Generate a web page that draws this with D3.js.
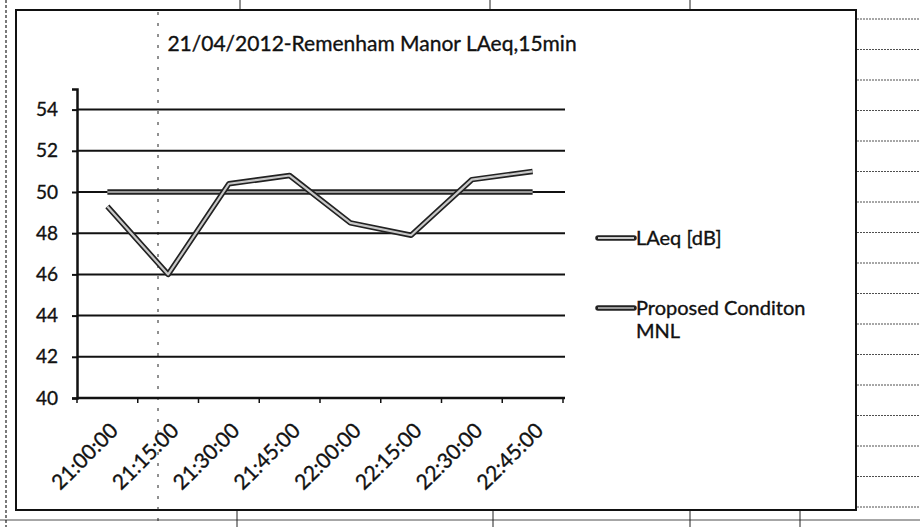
<!DOCTYPE html>
<html>
<head>
<meta charset="utf-8">
<script src="https://cdn.jsdelivr.net/npm/d3@7"></script>
<style>
  body { margin: 0; background: #fff; }
  text { font-family: Lato, "Open Sans", sans-serif; fill: #111; stroke: #111; stroke-width: 0.35px; }
</style>
</head>
<body>
<div id="chart"></div>
<script>
// chart data
var times = ["21:00:00", "21:15:00", "21:30:00", "21:45:00", "22:00:00", "22:15:00", "22:30:00", "22:45:00"];
var laeq = [49.3, 46.0, 50.4, 50.8, 48.5, 47.9, 50.6, 51.0];
var proposed = [50, 50, 50, 50, 50, 50, 50, 50];
var yTicks = [40, 42, 44, 46, 48, 50, 52, 54];
var seriesNames = ["LAeq [dB]", "Proposed Conditon MNL"];

var W = 920, H = 527;
var svg = d3.select("#chart").append("svg")
  .attr("width", W).attr("height", H);

// ---- scan leftovers: spreadsheet cells around the chart
var deco = svg.append("g").attr("stroke", "#222").attr("fill", "none");
deco.append("line").attr("x1", 6).attr("x2", 6).attr("y1", 0).attr("y2", H)
  .attr("stroke-width", 1.2).attr("stroke-dasharray", "3,2");
d3.range(19, 510, 30.5).forEach(function(y) {
  deco.append("line").attr("x1", 857).attr("x2", W).attr("y1", y).attr("y2", y)
    .attr("stroke-width", 0.8).attr("stroke-dasharray", "2,1");
});
deco.append("line").attr("x1", 0).attr("x2", W).attr("y1", 520).attr("y2", 520)
  .attr("stroke-width", 0.8);
[240, 490, 690].forEach(function(xx) {
  deco.append("line").attr("x1", xx).attr("x2", xx).attr("y1", 0).attr("y2", 9).attr("stroke-width", 1);
});
[237, 493, 690, 800].forEach(function(xx) {
  deco.append("line").attr("x1", xx).attr("x2", xx).attr("y1", 511).attr("y2", 527).attr("stroke-width", 1);
});

// chart frame
svg.append("rect").attr("x", 16).attr("y", 10).attr("width", 840).attr("height", 500)
  .attr("fill", "#fff").attr("stroke", "#111").attr("stroke-width", 2);
svg.append("line").attr("x1", 158).attr("x2", 158).attr("y1", 12).attr("y2", 527)
  .attr("stroke", "#222").attr("stroke-width", 1).attr("stroke-dasharray", "3,8");

// title
svg.append("text")
  .attr("x", 372).attr("y", 51)
  .attr("text-anchor", "middle")
  .style("font-size", "21px")
  .text("21/04/2012-Remenham Manor LAeq,15min");

// scales
var x = d3.scalePoint().domain(times).range([77, 563]).padding(0.5);
var xBand = d3.scaleBand().domain(times).range([77, 563]);
var y = d3.scaleLinear().domain([40, 55]).range([398, 89]);

// gridlines
svg.append("g").selectAll("line")
  .data(yTicks)
  .enter().append("line")
  .attr("x1", 77).attr("x2", 565)
  .attr("y1", function(d) { return y(d); })
  .attr("y2", function(d) { return y(d); })
  .attr("stroke", "#111").attr("stroke-width", 2);

// y axis
var yAxis = svg.append("g").attr("transform", "translate(77,0)")
  .call(d3.axisLeft(y).tickValues(yTicks).tickSize(5).tickPadding(14));
yAxis.select(".domain").attr("stroke", "#111").attr("stroke-width", 2.5);
yAxis.selectAll(".tick line").attr("stroke", "#111").attr("stroke-width", 2);
yAxis.selectAll(".tick text").style("font-size", "19px").attr("fill", "#111");

// x axis: ticks sit between categories
var xAxis = svg.append("g").attr("transform", "translate(0,398)");
xAxis.append("line").attr("x1", 77).attr("x2", 565)
  .attr("stroke", "#111").attr("stroke-width", 2.5);
xAxis.selectAll(".xt")
  .data(times.concat(["end"]))
  .enter().append("line")
  .attr("x1", function(d, i) { return i < times.length ? xBand(d) : 563; })
  .attr("x2", function(d, i) { return i < times.length ? xBand(d) : 563; })
  .attr("y1", 0).attr("y2", 5)
  .attr("stroke", "#111").attr("stroke-width", 1.5);
xAxis.selectAll(".xl")
  .data(times)
  .enter().append("text")
  .attr("text-anchor", "end")
  .attr("transform", function(d) { return "translate(" + (x(d) + 12) + ",34) rotate(-45)"; })
  .style("font-size", "21px")
  .text(function(d) { return d; });

// double-stroked lines like the scan
var line = d3.line()
  .x(function(d, i) { return x(times[i]); })
  .y(function(d) { return y(d); });

function drawSeries(vals, inner) {
  var g = svg.append("g");
  g.append("path").attr("d", line(vals)).attr("fill", "none")
    .attr("stroke", "#222").attr("stroke-width", 5.5).attr("stroke-linejoin", "round");
  g.append("path").attr("d", line(vals)).attr("fill", "none")
    .attr("stroke", inner).attr("stroke-width", 2.2).attr("stroke-linejoin", "round");
}
drawSeries(proposed, "#999");
drawSeries(laeq, "#c8c8c8");

// legend
var legend = svg.append("g");
var legendY = [238, 308];
seriesNames.forEach(function(name, i) {
  var ly = legendY[i];
  legend.append("line").attr("x1", 598).attr("x2", 634).attr("y1", ly).attr("y2", ly)
    .attr("stroke", "#222").attr("stroke-width", 5.5).attr("stroke-linecap", "round");
  legend.append("line").attr("x1", 598).attr("x2", 634).attr("y1", ly).attr("y2", ly)
    .attr("stroke", i === 0 ? "#c8c8c8" : "#999").attr("stroke-width", 2.2);
  var words = i === 0 ? [name] : ["Proposed Conditon", "MNL"];
  var t = legend.append("text").attr("x", 636).attr("y", ly + 7).style("font-size", "20px");
  words.forEach(function(w, k) {
    t.append("tspan").attr("x", 636).attr("dy", k === 0 ? 0 : 23).text(w);
  });
});
</script>
</body>
</html>
